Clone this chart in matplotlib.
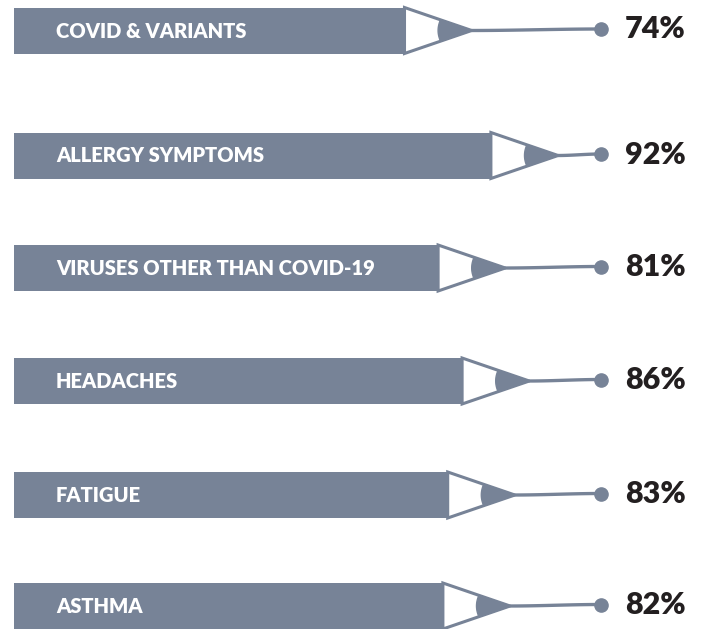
import numpy as np
import matplotlib
matplotlib.use('Agg')
import matplotlib.pyplot as plt
from matplotlib.patches import Polygon

# data
categories = ['COVID & VARIANTS', 'ALLERGY SYMPTOMS', 'VIRUSES OTHER THAN COVID-19',
              'HEADACHES', 'FATIGUE', 'ASTHMA']
values = [74, 92, 81, 86, 83, 82]
labels = ['74%', '92%', '81%', '86%', '83%', '82%']

# layout (rows in pixel units, x in percent units)
rows = [30.5, 155.5, 268, 381, 495, 606]
bar_h = 46
left = -7.35
tip_len = 14.0
dark_start = 7.5
dot_x = 114.9
label_x = 119.9
text_x = 1.4

bar_color = '#778397'
text_color = '#231f20'

fig = plt.figure(figsize=(7.01, 6.29), dpi=100)
ax = fig.add_axes([0, 0, 1, 1])
ax.set_xlim(-10.27, 135.77)
ax.set_ylim(629, 0)
ax.axis('off')

ax.barh(rows, [v - left for v in values], left=left, height=bar_h,
        color=bar_color, edgecolor='none')

for y, v, cat, lab in zip(rows, values, categories, labels):
    top = y - bar_h / 2
    bot = y + bar_h / 2
    tip = v + tip_len
    # wooden part
    ax.add_patch(Polygon([(v, top), (tip, y), (v, bot)], closed=True,
                         facecolor='white', edgecolor=bar_color, lw=2.2, zorder=3))
    # graphite tip with curved back
    xd = v + dark_start
    frac = dark_start / tip_len
    half = bar_h / 2 * (1 - frac)
    t = np.linspace(-1, 1, 20)
    back_x = xd - 2.0 * (1 - t ** 2) * 0.25
    back_y = y + t * half
    pts = [(tip, y)] + list(zip(back_x, back_y))
    ax.add_patch(Polygon(pts, closed=True, facecolor=bar_color,
                         edgecolor=bar_color, lw=1.0, zorder=4))
    # line to the dot
    xs = np.linspace(tip, dot_x, 60)
    s = (xs - tip) / (dot_x - tip)
    ys = y - 1.5 * (3 * s ** 2 - 2 * s ** 3)
    ax.plot(xs, ys, color=bar_color, lw=2.4, solid_capstyle='round', zorder=3)
    ax.plot(dot_x, ys[-1], 'o', color=bar_color, markersize=9.5, zorder=5)
    ax.text(text_x, y + 0.5, cat, color='white', fontsize=14.5, fontweight='heavy',
            family='Lato', ha='left', va='center', zorder=6)
    ax.text(label_x, y - 1, lab, color=text_color, fontsize=22, fontweight='heavy',
            family='Lato', ha='left', va='center', zorder=6)

fig.savefig('out.png', dpi=100)
